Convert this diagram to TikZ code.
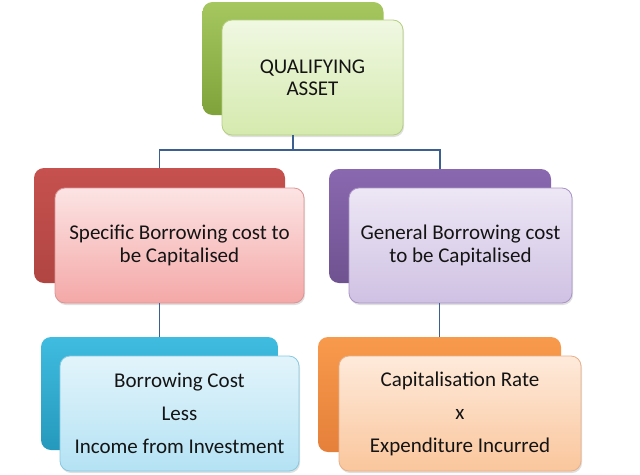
\documentclass[tikz,border=0pt]{standalone}
\usepackage{fontspec}
\setmainfont{Carlito}
\usetikzlibrary{shadows}
\definecolor{conn}{HTML}{3B5F91}
\definecolor{gB1}{HTML}{A6C760}\definecolor{gB2}{HTML}{7FA33A}
\definecolor{gF1}{HTML}{F0F8E2}\definecolor{gF2}{HTML}{D5EAAE}\definecolor{gL}{HTML}{B5CF80}
\definecolor{rB1}{HTML}{C6514E}\definecolor{rB2}{HTML}{B04542}
\definecolor{rF1}{HTML}{FCE4E4}\definecolor{rF2}{HTML}{F4A8A7}\definecolor{rL}{HTML}{D99594}
\definecolor{pB1}{HTML}{8A68B0}\definecolor{pB2}{HTML}{6F5290}
\definecolor{pF1}{HTML}{EDE7F5}\definecolor{pF2}{HTML}{CFC1E3}\definecolor{pL}{HTML}{A994C6}
\definecolor{bB1}{HTML}{3FBCE0}\definecolor{bB2}{HTML}{2599BC}
\definecolor{bF1}{HTML}{E2F4FB}\definecolor{bF2}{HTML}{B4E2F4}\definecolor{bL}{HTML}{86C9E0}
\definecolor{oB1}{HTML}{F89A4C}\definecolor{oB2}{HTML}{E5803A}
\definecolor{oF1}{HTML}{FEEADB}\definecolor{oF2}{HTML}{FAC69C}\definecolor{oL}{HTML}{E8B08A}
\tikzset{
  backbox/.style={rounded corners=10pt, inner sep=0pt},
  frontbox/.style={rounded corners=10pt, inner sep=0pt, line width=0.8pt, align=center,
    text=black!92,
    drop shadow={opacity=0.25, shadow xshift=1pt, shadow yshift=-2pt}},
  link/.style={draw=conn, line width=1.3pt},
}
\begin{document}
\begin{tikzpicture}[x=1pt,y=-1pt]
\useasboundingbox (0,0) rectangle (640,474);
% top
\node[backbox, top color=gB1, bottom color=gB2, minimum width=181pt, minimum height=113pt] (qaback) at (293,58.5) {};
\node[frontbox, top color=gF1, bottom color=gF2, draw=gL, minimum width=181pt, minimum height=115pt,
  font=\fontsize{21}{22}\selectfont] (qa) at (312.5,77.5) {QUALIFYING\\ASSET};
% middle
\node[backbox, top color=rB1, bottom color=rB2, minimum width=251pt, minimum height=115pt] (spback) at (159.5,225.5) {};
\node[frontbox, top color=rF1, bottom color=rF2, draw=rL, minimum width=249pt, minimum height=115pt,
  font=\fontsize{21}{23}\selectfont] (sp) at (179.5,245.5) {Specific Borrowing cost to\\be Capitalised};
\node[backbox, top color=pB1, bottom color=pB2, minimum width=222pt, minimum height=114pt] (gbback) at (440,226) {};
\node[frontbox, top color=pF1, bottom color=pF2, draw=pL, minimum width=223pt, minimum height=115pt,
  font=\fontsize{21}{23}\selectfont] (gb) at (460.5,245.5) {General Borrowing cost\\to be Capitalised};
% bottom
\node[backbox, top color=bB1, bottom color=bB2, minimum width=237pt, minimum height=113pt] (bcback) at (159.5,393.5) {};
\node[frontbox, top color=bF1, bottom color=bF2, draw=bL, minimum width=239pt, minimum height=115pt,
  font=\fontsize{21}{33}\selectfont] (bc) at (179.5,413.5) {Borrowing Cost\\Less\\Income from Investment};
\node[backbox, top color=oB1, bottom color=oB2, minimum width=243pt, minimum height=115pt] (crback) at (439.5,394.5) {};
\node[frontbox, top color=oF1, bottom color=oF2, draw=oL, minimum width=242pt, minimum height=115pt,
  font=\fontsize{21}{33}\selectfont] (cr) at (460,413.5) {Capitalisation Rate\\x\\Expenditure Incurred};
% connectors
\coordinate (bus) at (293,150);
\draw[link] (qaback.south |- qa.south) -- (bus);
\draw[link] (spback.north) -- (spback.north |- bus) -- (gbback.north |- bus) -- (gbback.north);
\draw[link] (bcback.north |- sp.south) -- (bcback.north);
\draw[link] (crback.north |- gb.south) -- (crback.north);
\end{tikzpicture}
\end{document}
